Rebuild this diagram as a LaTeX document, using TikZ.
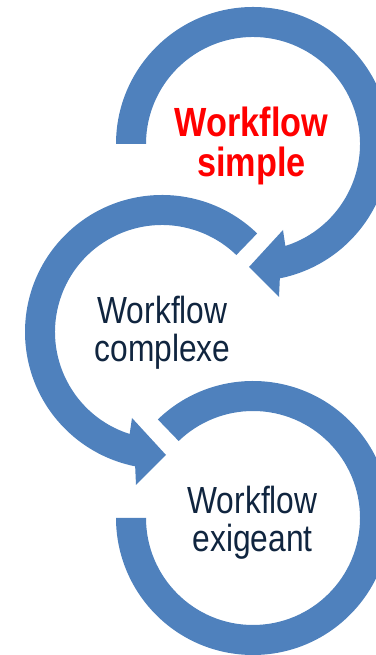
\documentclass[tikz,border=0pt]{standalone}
\usepackage{fontspec}
\setmainfont{Liberation Sans}[FakeStretch=0.84]
\usepackage{xcolor}
\usepackage{tikz}
\usetikzlibrary{calc}
\definecolor{ringblue}{HTML}{4F81BD}
\definecolor{navy}{HTML}{10253F}
\definecolor{hot}{HTML}{FF0000}
\tikzset{
  ring/.style={fill=ringblue, draw=none},
  lab/.style={text=navy, align=center, inner sep=0pt, font=\fontsize{21.5}{21.5}\selectfont},
  labhot/.style={lab, text=hot, font=\fontsize{23.2}{22.7}\selectfont\bfseries},
}

\begin{document}
\begin{tikzpicture}[x=0.2mm,y=0.2mm]
  \def\ri{107}
  \def\ro{137}
  \useasboundingbox (0,0) rectangle (376,655);
  \clip (0,0) rectangle (376,655);
  \coordinate (T) at (253,511);
  \coordinate (M) at (162,323);
  \coordinate (B) at (253,137);

  % bottom ring, open on the left
  \fill[ring,shift={(B)}] (134:\ro) arc[start angle=134,end angle=-180,radius=\ro]
    -- (180:\ri) arc[start angle=-180,end angle=134,radius=\ri] -- cycle;
  % middle ring, head to the right
  \fill[ring,shift={(M)}] (46:\ro) arc[start angle=46,end angle=258.7,radius=\ro]
    -- (-26,-153) -- (4,-123) -- (-30,-86)
    -- (252.4:\ri) arc[start angle=252.4,end angle=46,radius=\ri] -- cycle;
  % top ring, head to the left
  \fill[ring,shift={(T)}] (180:\ri) -- (180:\ro) arc[start angle=180,end angle=-78.7,radius=\ro]
    -- (26,-153) -- (-4,-123) -- (30,-86)
    -- (-72.4:\ri) arc[start angle=-72.4,end angle=180,radius=\ri] -- cycle;

  \node[labhot] (simple) at ($(T)+(-1.5,-2.3)$) {Workflow\\simple};
  \node[lab] (complexe) at ($(M)+(0.5,-0.5)$) {Workflow\\complexe};
  \node[lab] (exigeant) at ($(B)+(-0.5,-5)$) {Workflow\\exigeant};
\end{tikzpicture}
\end{document}
